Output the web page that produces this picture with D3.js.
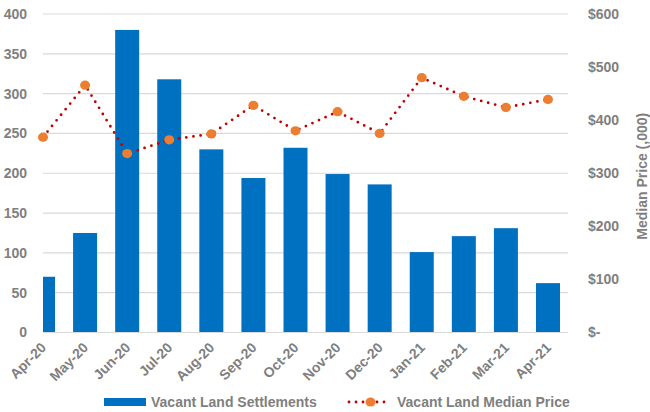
<!DOCTYPE html>
<html>
<head>
<meta charset="utf-8">
<script src="https://cdn.jsdelivr.net/npm/d3@7/dist/d3.min.js"></script>
<style>
  html, body { margin: 0; padding: 0; background: #fff; }
  svg { display: block; font-family: "Liberation Sans", Arial, sans-serif; }
</style>
</head>
<body>
<svg id="chart" width="650" height="412"></svg>
<script>
// Monthly vacant land settlements and median price
const months = ["Apr-20", "May-20", "Jun-20", "Jul-20", "Aug-20", "Sep-20", "Oct-20",
                "Nov-20", "Dec-20", "Jan-21", "Feb-21", "Mar-21", "Apr-21"];
const settlements = [70, 125, 380, 318, 230, 194, 232, 199, 186, 101, 121, 131, 62];
const medianPrice = [368, 466, 337, 363, 374, 428, 380, 416, 375, 480, 445, 424, 439];
const leftTicks = [0, 50, 100, 150, 200, 250, 300, 350, 400];
const rightTicks = [0, 100, 200, 300, 400, 500, 600];
const seriesNames = ["Vacant Land Settlements", "Vacant Land Median Price"];

const svg = d3.select("#chart");
const plot = { left: 43, right: 568, top: 14, bottom: 332.5 };
const textColor = "#7f7f7f";
const barColor = "#0070c0";
const lineColor = "#c00000";
const markerColor = "#ed7d31";

const x = d3.scalePoint().domain(months).range([43, 548]);
const yL = d3.scaleLinear().domain([0, 400]).range([plot.bottom, plot.top]);
const yR = d3.scaleLinear().domain([0, 600]).range([plot.bottom, plot.top]);

// horizontal gridlines
svg.append("g")
  .selectAll("line")
  .data(leftTicks)
  .join("line")
  .attr("x1", plot.left).attr("x2", plot.right)
  .attr("y1", d => yL(d)).attr("y2", d => yL(d))
  .attr("stroke", "#d9d9d9").attr("stroke-width", 1.2);

// left axis
const leftAxis = svg.append("g")
  .attr("transform", `translate(${plot.left - 16},0)`)
  .call(d3.axisLeft(yL).tickValues(leftTicks).tickSize(0).tickPadding(0));
leftAxis.select(".domain").remove();
leftAxis.selectAll("text")
  .attr("fill", textColor).attr("font-size", 14).attr("font-weight", "bold")
  .attr("font-family", "Liberation Sans, Arial, sans-serif");

// right axis
const fmtPrice = d => d === 0 ? "$-" : "$" + d;
const rightAxis = svg.append("g")
  .attr("transform", `translate(588,0)`)
  .call(d3.axisRight(yR).tickValues(rightTicks).tickFormat(fmtPrice).tickSize(0).tickPadding(0));
rightAxis.select(".domain").remove();
rightAxis.selectAll("text")
  .attr("fill", textColor).attr("font-size", 14).attr("font-weight", "bold")
  .attr("font-family", "Liberation Sans, Arial, sans-serif");

// right axis title, condensed to fit the margin
svg.append("text")
  .attr("transform", `translate(647,${(plot.top + plot.bottom) / 2 + 3}) rotate(-90)`)
  .attr("text-anchor", "middle")
  .attr("fill", textColor).attr("font-size", 15).attr("font-weight", "bold")
  .attr("textLength", 127).attr("lengthAdjust", "spacingAndGlyphs")
  .text("Median Price (,000)");

// bars, clipped to the plot area
svg.append("clipPath").attr("id", "plotClip")
  .append("rect")
  .attr("x", plot.left).attr("y", 0)
  .attr("width", plot.right - plot.left).attr("height", plot.bottom + 1);

const barW = 24;
svg.append("g").attr("clip-path", "url(#plotClip)")
  .selectAll("rect")
  .data(settlements)
  .join("rect")
  .attr("x", (d, i) => x(months[i]) - barW / 2)
  .attr("y", d => yL(d))
  .attr("width", barW)
  .attr("height", d => yL(0) - yL(d))
  .attr("fill", barColor);

// x baseline
svg.append("line")
  .attr("x1", plot.left).attr("x2", plot.right)
  .attr("y1", plot.bottom).attr("y2", plot.bottom)
  .attr("stroke", "#d9d9d9").attr("stroke-width", 1.2);

// x labels
svg.append("g")
  .selectAll("text")
  .data(months)
  .join("text")
  .attr("transform", d => `translate(${x(d) + 4},${plot.bottom + 16}) rotate(-45)`)
  .attr("text-anchor", "end")
  .attr("fill", textColor).attr("font-size", 14).attr("font-weight", "bold")
  .text(d => d);

// median price line (dotted) and markers
const line = d3.line()
  .x((d, i) => x(months[i]))
  .y(d => yR(d));
svg.append("path")
  .datum(medianPrice)
  .attr("d", line)
  .attr("fill", "none")
  .attr("stroke", lineColor)
  .attr("stroke-width", 2.8)
  .attr("stroke-linecap", "round")
  .attr("stroke-dasharray", "0,7.2");

svg.append("g")
  .selectAll("ellipse")
  .data(medianPrice)
  .join("ellipse")
  .attr("cx", (d, i) => x(months[i]))
  .attr("cy", d => yR(d))
  .attr("rx", 5).attr("ry", 4.6)
  .attr("fill", markerColor);

// legend
const legY = 402;
const leg = svg.append("g");
leg.append("rect")
  .attr("x", 104).attr("y", legY - 4).attr("width", 42).attr("height", 8)
  .attr("fill", barColor);
leg.append("text")
  .attr("x", 151).attr("y", legY + 5)
  .attr("fill", textColor).attr("font-size", 14).attr("font-weight", "bold")
  .text(seriesNames[0]);

leg.append("line")
  .attr("x1", 349).attr("x2", 391).attr("y1", legY).attr("y2", legY)
  .attr("stroke", lineColor).attr("stroke-width", 2.8)
  .attr("stroke-linecap", "round").attr("stroke-dasharray", "0,7");
leg.append("ellipse")
  .attr("cx", 370.5).attr("cy", legY).attr("rx", 5).attr("ry", 4.6)
  .attr("fill", markerColor);
leg.append("text")
  .attr("x", 397).attr("y", legY + 5)
  .attr("fill", textColor).attr("font-size", 14).attr("font-weight", "bold")
  .text(seriesNames[1]);
</script>
</body>
</html>
